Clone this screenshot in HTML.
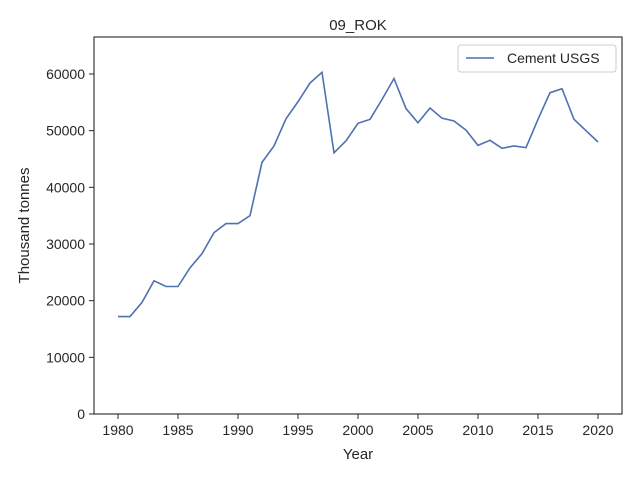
<!DOCTYPE html>
<html><head><meta charset="utf-8"><style>
body{margin:0;background:#fff;}
svg text{font-family:"Liberation Sans",Arial,sans-serif;fill:#262626;}
</style></head><body>
<svg width="640" height="480">
<g id="g"></g>
</svg>
<script>
const years=[];for(let y=1980;y<=2020;y++)years.push(y);
const cementUSGS=[17200,17200,19700,23500,22500,22500,25800,28300,32000,33600,33600,35000,44400,47300,52100,55100,58400,60300,46100,48200,51300,52000,55500,59200,53900,51400,54000,52200,51700,50100,47400,48300,46900,47300,47000,52000,56700,57400,52000,50000,48000];
const yTicks=[0,10000,20000,30000,40000,50000,60000];
const xTicks=[1980,1985,1990,1995,2000,2005,2010,2015,2020];
const L=94,R=622,T=37,B=414;
const xs=v=>118+(v-1980)*12;
const ys=v=>414-v*340/60000;
const g=document.getElementById('g');const NS='http://www.w3.org/2000/svg';
function mk(t,a,p){const e=document.createElementNS(NS,t);for(const k in a)e.setAttribute(k,a[k]);(p||g).appendChild(e);return e;}
let fr=mk('rect',{x:L,y:T,width:R-L,height:B-T,fill:'none',stroke:'#262626','stroke-width':1.1});


yTicks.forEach(v=>{const y=ys(v);
 let t=mk('line',{x1:L-5,x2:L,y1:y,y2:y,stroke:'#262626'});
 
 
 let tx=mk('text',{x:L-9,y:y+5,'text-anchor':'end','font-size':14});tx.textContent=v;
 
 });
xTicks.forEach(v=>{const x=xs(v);
 let t=mk('line',{x1:x,x2:x,y1:B,y2:B+5,stroke:'#262626'});
 
 
 let tx=mk('text',{x:x,y:B+21,'text-anchor':'middle','font-size':14});tx.textContent=v;
 
 });
let pl=mk('polyline',{points:years.map((y,i)=>xs(y)+','+ys(cementUSGS[i])).join(' '),fill:'none',stroke:'#4c72b0','stroke-width':1.6});


let ti=mk('text',{x:(L+R)/2,y:T-7,'text-anchor':'middle','font-size':15});ti.textContent='09_ROK';


let xl=mk('text',{x:(L+R)/2,y:459,'text-anchor':'middle','font-size':15});xl.textContent='Year';


let yl=mk('text',{x:0,y:0,'text-anchor':'middle','font-size':15,transform:'translate(29,'+((T+B)/2)+') rotate(-90)'});yl.textContent='Thousand tonnes';


let lg=mk('g',{});


mk('rect',{x:458,y:45,width:158,height:27,rx:3,fill:'#fff',stroke:'#ccc'},lg);
mk('line',{x1:466,x2:494,y1:58,y2:58,stroke:'#4c72b0','stroke-width':1.6},lg);
let lt=mk('text',{x:507,y:63,'font-size':14},lg);lt.textContent='Cement USGS';


</script>
</body></html>
